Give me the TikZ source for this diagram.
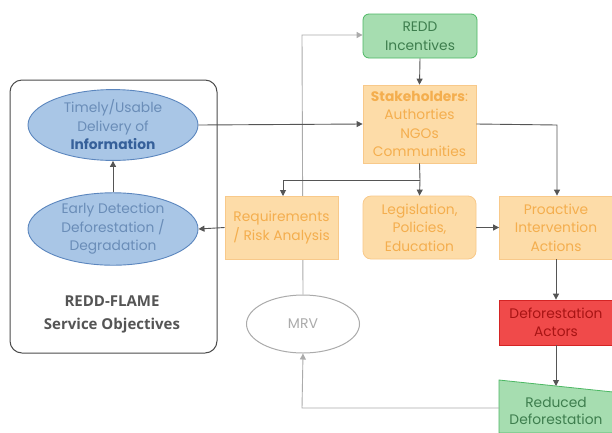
\documentclass[tikz,border=0pt]{standalone}
\usepackage{fontspec}
\setmainfont{Poppins}
\newfontfamily\objfont{Open Sans}
\usetikzlibrary{arrows.meta,shapes.geometric,calc}
\definecolor{bfill}{HTML}{A9C6E6}
\definecolor{bdraw}{HTML}{5B86BE}
\definecolor{btext}{HTML}{6A8DB8}
\definecolor{bbold}{HTML}{36609A}
\definecolor{ofill}{HTML}{FDDCA8}
\definecolor{odraw}{HTML}{F8C98A}
\definecolor{otext}{HTML}{F4AE4E}
\definecolor{gfill}{HTML}{A6DDB0}
\definecolor{gdraw}{HTML}{4DB864}
\definecolor{gtext}{HTML}{3E7E4E}
\definecolor{rfill}{HTML}{F04A4A}
\definecolor{rdraw}{HTML}{D42424}
\definecolor{rtext}{HTML}{A81414}
\definecolor{dline}{HTML}{555555}
\definecolor{lline}{HTML}{ABABAB}
\begin{document}
\begin{tikzpicture}[x=1pt,y=-1pt,
  every node/.style={font=\fontsize{13.8}{18.5}\selectfont, align=center, inner sep=0pt},
  ell/.style={ellipse, fill=bfill, draw=bdraw, line width=0.9pt, minimum width=170pt, minimum height=66pt, text=btext},
  obox/.style={rectangle, fill=ofill, draw=odraw, line width=0.8pt, minimum width=113pt, text=otext},
  gbox/.style={rectangle, rounded corners=6pt, fill=gfill, draw=gdraw, line width=0.8pt, text=gtext},
  darr/.style={draw=dline, line width=0.9pt, -{Triangle[length=6pt,width=6pt]}},
  larr/.style={draw=lline, line width=0.9pt, -{Triangle[length=6pt,width=6pt]}},
]
\useasboundingbox (0,0) rectangle (612,432);
\fill[white] (0,0) rectangle (612,432);
\clip (0,0) rectangle (612,432);

% left container
\node[draw=dline!90!black, line width=1pt, rounded corners=12pt, minimum width=207pt, minimum height=273pt] (cont) at (113.5,216.5) {};
\node[font=\objfont\fontsize{15}{23}\selectfont\bfseries, text=dline] (obj) at (112,314) {REDD-FLAME\\Service Objectives};

\node[ell] (info) at (113,125) {Timely/Usable\\Delivery of\\\textcolor{bbold}{\bfseries Information}};
\node[ell] (early) at (113,229) {Early Detection\\Deforestation /\\Degradation};

% right column
\node[gbox, minimum width=114pt, minimum height=44pt] (incent) at (420,36) {REDD\\Incentives};
\node[obox, minimum height=78pt] (stake) at (419.5,124) {\textbf{Stakeholders}:\\Authorties\\NGOs\\Communities};
\node[obox, minimum height=63pt] (req) at (281.5,227.5) {Requirements\\/ Risk Analysis};
\node[obox, rounded corners=8pt, minimum height=63pt] (legis) at (419.5,227.5) {Legislation,\\Policies,\\Education};
\node[obox, minimum height=63pt] (proact) at (556,227.5) {Proactive\\Intervention\\Actions};
\node[rectangle, fill=rfill, draw=rdraw, line width=0.8pt, minimum width=113pt, minimum height=45pt, text=rtext] (actors) at (556,322.5) {Deforestation\\Actors};
\node[ellipse, draw=lline, line width=1pt, fill=white, minimum width=113pt, minimum height=58pt, text=lline, font=\fontsize{14}{18}\selectfont] (mrv) at (303,324) {MRV};

% reduced deforestation trapezoid
\coordinate (rtl) at (499,380);
\coordinate (rtr) at (613,392);
\fill[gfill] (rtl) -- (rtr) -- (613,433) -- (499,433) -- cycle;
\draw[gdraw, line width=0.8pt] (613,433) -- (499,433) -- (rtl) -- (rtr);
\node[text=gtext, font=\fontsize{13.8}{17.5}\selectfont] (reduced) at (556,411) {Reduced\\Deforestation};
\coordinate (redtop) at (556,386);
\coordinate (redleft) at (499,408);

% connectors (gray light)
\draw[larr] (mrv.north) -- (302,35) -- (incent.west |- 0,35);
\draw[larr] (redleft) -- (302,408) -- (mrv.south);
% redraw req box over the line
\node[obox, minimum height=63pt] at (281.5,227.5) {Requirements\\/ Risk Analysis};

% dark connectors
\draw[darr] (early.north) -- (info.south);
\draw[darr] (info.east) -- (stake.west);
\draw[darr] (incent.south) -- (stake.north);
\coordinate (split) at (420,180);
\draw[draw=dline, line width=0.9pt] (stake.south) -- (split);
\draw[darr] (split) -- (legis.north);
\draw[darr] (split) -- (283,180) -- (283,196);
\draw[darr] (stake.east) -- (557,125) -- (proact.north -| 557,0);
\draw[darr] (req.west) -- (early.east);
\draw[darr] (legis.east) -- (proact.west);
\draw[darr] (proact.south) -- (actors.north);
\draw[darr] (actors.south) -- (redtop);
\end{tikzpicture}
\end{document}
